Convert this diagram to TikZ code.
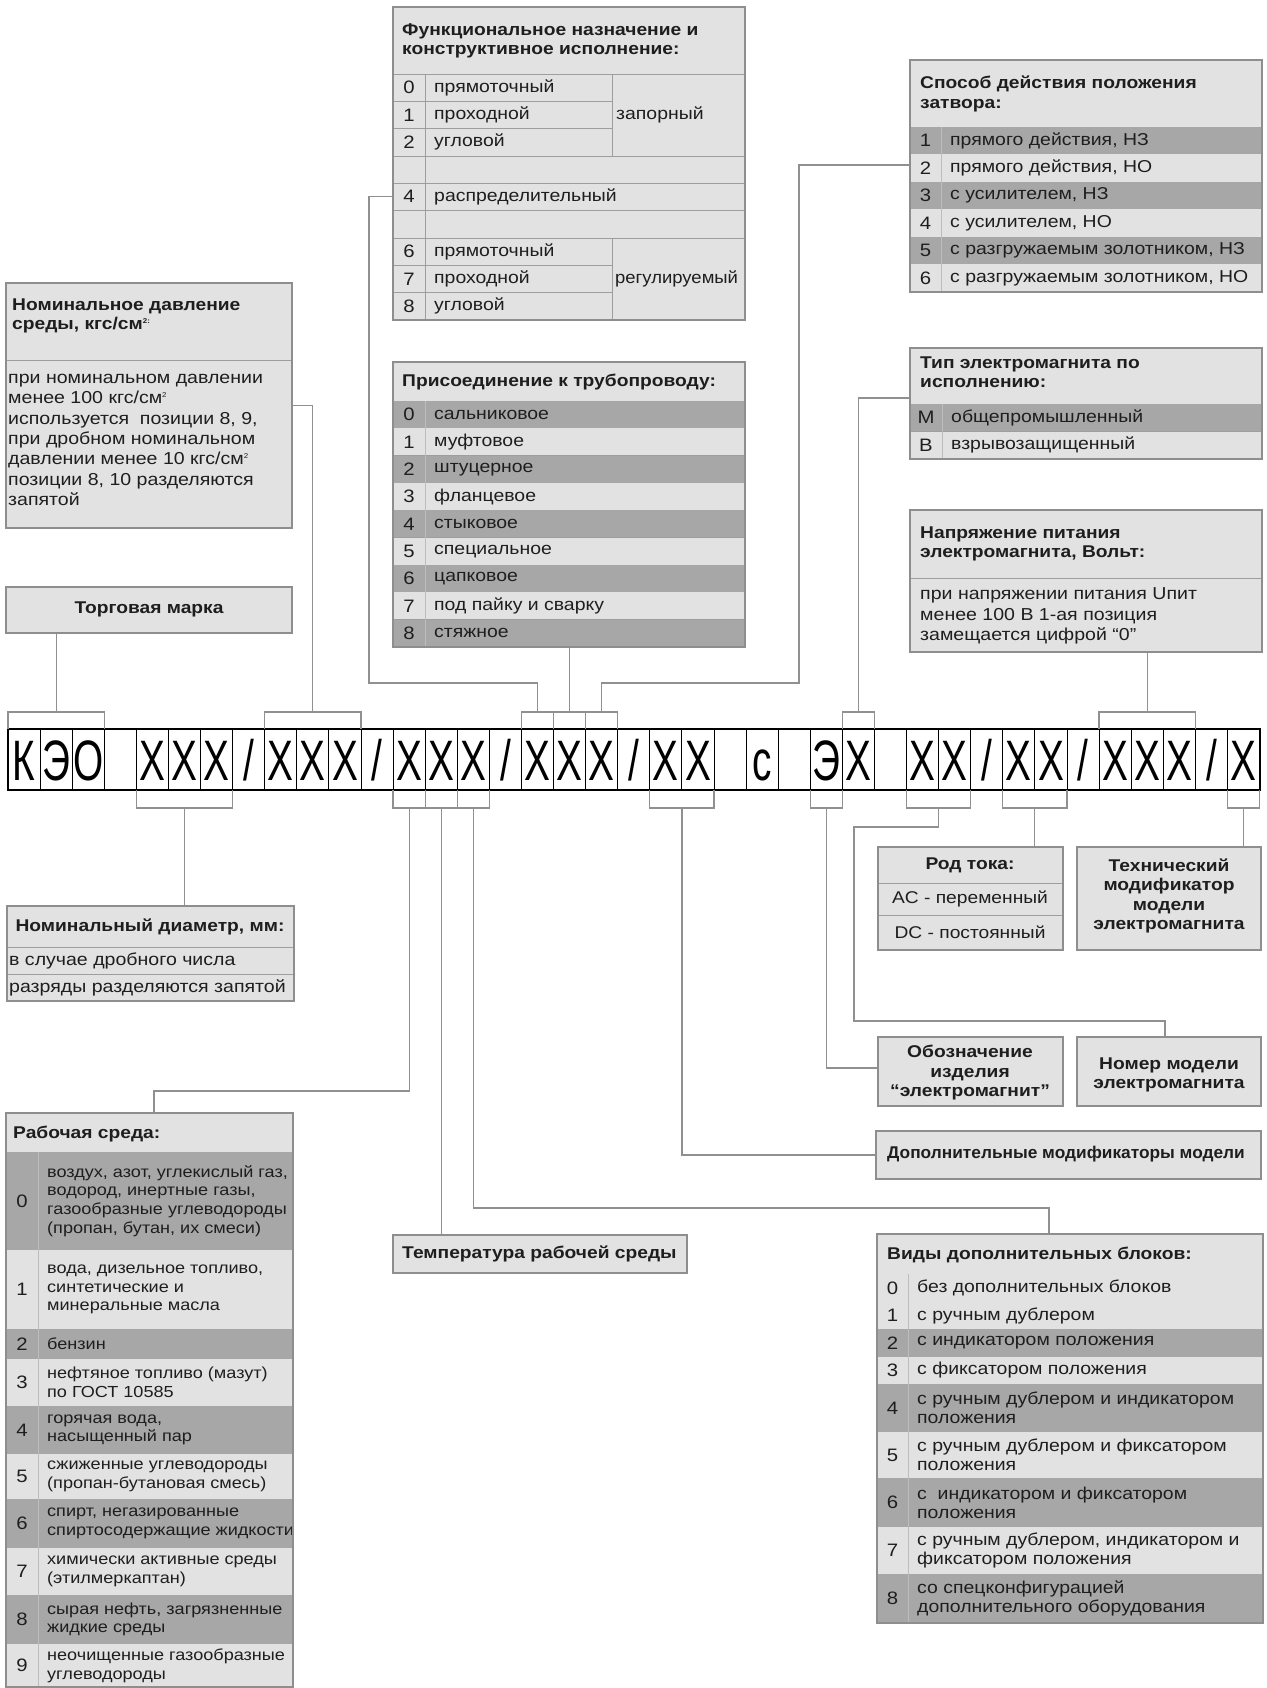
\documentclass[tikz,border=0pt]{standalone}
\usepackage{fontspec}
\setmainfont{Liberation Sans}[FakeStretch=1.13]
\newfontfamily\stripfont{Liberation Sans}
\usetikzlibrary{calc,fit}
\definecolor{lt}{HTML}{E2E2E2}
\definecolor{dk}{HTML}{A7A7A7}
\definecolor{bd}{HTML}{8E8E8E}
\definecolor{ln}{HTML}{9E9E9E}
\definecolor{cl}{HTML}{BDBDBD}
\definecolor{cn}{HTML}{909090}
\definecolor{tx}{HTML}{1E1E1E}
\newcounter{nn}
\tikzset{
 boxbg/.style={fill=lt,draw=none,inner sep=0pt,outer sep=0pt},
 border/.style={draw=bd,line width=1.3pt},
 rowline/.style={draw=ln,line width=0.8pt},
 colline/.style={draw=cl,line width=1pt},
 conn/.style={draw=cn,line width=1.2pt},
 ttl/.style={font=\bfseries\fontsize{17}{19.5}\selectfont,inner sep=0pt,align=left,text=tx},
 ttlc/.style={font=\bfseries\fontsize{17}{19.5}\selectfont,inner sep=0pt,align=center,text=tx},
 btx/.style={font=\fontsize{17.3}{20.3}\selectfont,inner sep=0pt,align=left,text=tx},
 btxc/.style={font=\fontsize{17}{20.3}\selectfont,inner sep=0pt,align=center,text=tx},
 rtx/.style={font=\fontsize{17.2}{19}\selectfont,inner sep=0pt,align=left,text=tx},
 stx/.style={font=\fontsize{16}{18.6}\selectfont,inner sep=0pt,align=left,text=tx},
 numtx/.style={font=\fontsize{18}{20}\selectfont,inner sep=0pt,text=tx},
 cell/.style={draw=black,line width=0.9pt,minimum width=32.09pt,minimum height=61pt,inner sep=0pt,outer sep=0pt,text height=41pt,text depth=0pt,font=\stripfont\fontsize{57}{57}\selectfont},
}
\newcommand{\trow}[9]{%
 \fill[#6] (#1,#4) rectangle (#3,#5);
 \draw[rowline] (#1,#5) -- (#3,#5);
 \draw[colline] (#2,#4) -- (#2,#5);
 \stepcounter{nn}\node[numtx] (n\arabic{nn}) at ({(#1+#2)/2},{(#4+#5)/2}) {#7};
 \stepcounter{nn}\node[#9, anchor=west] (n\arabic{nn}) at ({#2+9},{(#4+#5)/2}) {#8};
}
\newcommand{\supsm}[1]{\raisebox{6pt}{\fontsize{7}{7}\selectfont #1}}
\begin{document}
\begin{tikzpicture}[x=1pt,y=-1pt]
\useasboundingbox (0,0) rectangle (1266,1688);
\fill[white] (0,0) rectangle (1266,1688);

% ---------- code strip ----------
\foreach \ch [count=\i from 0] in {К,Э,О,{},X,X,X,/,X,X,X,/,X,X,X,/,X,X,X,/,X,X,{},с,{},Э,X,{},X,X,/,X,X,/,X,X,X,/,X}
  \node[cell] (c\i) at ({8+32.09*(\i+0.5)},759.5) {\scalebox{0.68}[1]{\ch}};
\draw[line width=2pt] (c0.north west) rectangle (c38.south east);

% top brackets
\draw[conn] (c0.north west) -- ++(0,-17) -| (c2.north east);
\draw[conn] (c8.north west) -- ++(0,-17) -| (c10.north east);
\draw[conn] (c16.north west) -- ++(0,-17) -| (c16.north east);
\draw[conn] (c17.north west) -- ++(0,-17) -| (c17.north east);
\draw[conn] (c18.north west) -- ++(0,-17) -| (c18.north east);
\draw[conn] (c26.north west) -- ++(0,-17) -| (c26.north east);
\draw[conn] (c34.north west) -- ++(0,-17) -| (c36.north east);
% bottom brackets
\draw[conn] (c4.south west) -- ++(0,18) -| (c6.south east);
\draw[conn] (c12.south west) -- ++(0,18) -| (c12.south east);
\draw[conn] (c13.south west) -- ++(0,18) -| (c13.south east);
\draw[conn] (c14.south west) -- ++(0,18) -| (c14.south east);
\draw[conn] (c20.south west) -- ++(0,18) -| (c21.south east);
\draw[conn] (c25.south west) -- ++(0,18) -| (c25.south east);
\draw[conn] (c28.south west) -- ++(0,18) -| (c29.south east);
\draw[conn] (c31.south west) -- ++(0,18) -| (c32.south east);
\draw[conn] (c38.south west) -- ++(0,18) -| (c38.south east);

% bracket mid points
\coordinate (tA) at ($(c0.north west)!0.5!(c2.north east)+(0,-17)$);
\coordinate (tB) at ($(c8.north west)!0.5!(c10.north east)+(0,-17)$);
\coordinate (tC) at ($(c16.north)+(0,-17)$);
\coordinate (tD) at ($(c17.north)+(0,-17)$);
\coordinate (tE) at ($(c18.north)+(0,-17)$);
\coordinate (tF) at ($(c26.north)+(0,-17)$);
\coordinate (tG) at ($(c34.north west)!0.5!(c36.north east)+(0,-17)$);
\coordinate (bH) at ($(c4.south west)!0.5!(c6.south east)+(0,18)$);
\coordinate (bI) at ($(c12.south)+(0,18)$);
\coordinate (bJ) at ($(c13.south)+(0,18)$);
\coordinate (bK) at ($(c14.south)+(0,18)$);
\coordinate (bL) at ($(c20.south west)!0.5!(c21.south east)+(0,18)$);
\coordinate (bM) at ($(c25.south)+(0,18)$);
\coordinate (bN) at ($(c28.south west)!0.5!(c29.south east)+(0,18)$);
\coordinate (bO) at ($(c31.south west)!0.5!(c32.south east)+(0,18)$);
\coordinate (bP) at ($(c38.south)+(0,18)$);

% box entry points
\coordinate (fr4) at (393,196.5);
\coordinate (sp2) at (910,165);
\coordinate (tp1) at (910,398);
\coordinate (rbin) at (154,1113);
\coordinate (vdin) at (1049,1234);
\coordinate (obin) at (878,1068);
\coordinate (nmin) at (1165,1037);

% ---------- boxes (backgrounds) ----------
\node[boxbg, fit={(393,7) (745,320)}] (func) {};
\node[boxbg, fit={(910,60) (1262,292)}] (spos) {};
\node[boxbg, fit={(6,283) (292,528)}] (press) {};
\node[boxbg, fit={(6,587) (292,633)}] (trade) {};
\node[boxbg, fit={(393,362) (745,647)}] (pris) {};
\node[boxbg, fit={(910,348) (1262,459)}] (tip) {};
\node[boxbg, fit={(910,510) (1262,652)}] (napr) {};
\node[boxbg, fit={(7,906) (294,1001)}] (diam) {};
\node[boxbg, fit={(6,1113) (293,1687)}] (rab) {};
\node[boxbg, fit={(393,1235) (687,1273)}] (temp) {};
\node[boxbg, fit={(876,1131) (1261,1179)}] (dopmod) {};
\node[boxbg, fit={(877,1234) (1263,1623)}] (vidy) {};
\node[boxbg, fit={(878,847) (1063,950)}] (rod) {};
\node[boxbg, fit={(1077,847) (1261,950)}] (tehn) {};
\node[boxbg, fit={(878,1037) (1063,1106)}] (oboz) {};
\node[boxbg, fit={(1077,1037) (1261,1106)}] (nomer) {};

% ---------- connectors ----------
\draw[conn] (tA) -- (tA |- trade.south);
\draw[conn] (tB) |- (press.east);
\draw[conn] (tC) |- (369,683) |- (fr4);
\draw[conn] (tD) -- (tD |- pris.south);
\draw[conn] (tE) |- (799,683) |- (sp2);
\draw[conn] (tF) |- (tp1);
\draw[conn] (tG) -- (tG |- napr.south);
\draw[conn] (bH) -- (bH |- diam.north);
\draw[conn] (bI) |- (154,1091) -- (rbin);
\draw[conn] (bJ) -- (bJ |- temp.north);
\draw[conn] (bK) |- (1049,1208) -- (vdin);
\draw[conn] (bL) |- (dopmod.west);
\draw[conn] (bM) |- (obin);
\draw[conn] (bN) |- (854,827) |- (1165,1021) -- (nmin);
\draw[conn] (bO) -- (bO |- rod.north);
\draw[conn] (bP) -- (bP |- tehn.north);

% ---------- Функциональное назначение ----------
\draw[rowline] (393,74) -- (745,74);
\draw[rowline] (393,101.3) -- (612,101.3) (393,128.7) -- (612,128.7)
  (393,156) -- (745,156) (393,183.3) -- (745,183.3) (393,210.7) -- (745,210.7)
  (393,238) -- (745,238) (393,265.3) -- (612,265.3) (393,292.7) -- (612,292.7);
\draw[rowline] (425,74) -- (425,320) (612,74) -- (612,156) (612,238) -- (612,320);
\node[ttl, anchor=west] (funcT) at (402,41) {Функциональное назначение и\\конструктивное исполнение:};
\node[numtx] (f0) at (409,87.7) {0};
\node[numtx] (f1) at (409,115) {1};
\node[numtx] (f2) at (409,142.3) {2};
\node[numtx] (f4) at (409,196.7) {4};
\node[numtx] (f6) at (409,251.7) {6};
\node[numtx] (f7) at (409,279) {7};
\node[numtx] (f8) at (409,306.3) {8};
\node[rtx, anchor=west] (ft0) at (434,87.7) {прямоточный};
\node[rtx, anchor=west] (ft1) at (434,115) {проходной};
\node[rtx, anchor=west] (ft2) at (434,142.3) {угловой};
\node[rtx, anchor=west] (ft4) at (434,196.7) {распределительный};
\node[rtx, anchor=west] (ft6) at (434,251.7) {прямоточный};
\node[rtx, anchor=west] (ft7) at (434,279) {проходной};
\node[rtx, anchor=west] (ft8) at (434,306.3) {угловой};
\node[rtx, anchor=west] (fg1) at (616,115) {запорный};
\node[rtx, anchor=west] (fg2) at (615,279) {\scalebox{0.95}[1]{регулируемый}};
\draw[border] (func.north west) rectangle (func.south east);

% ---------- Способ действия ----------
\draw[rowline] (910,127) -- (1262,127);
\node[ttl, anchor=west] (sposT) at (920,94) {Способ действия положения\\затвора:};
\trow{910}{941}{1262}{127}{154.5}{dk}{1}{прямого действия, НЗ}{rtx}
\trow{910}{941}{1262}{154.5}{182}{lt}{2}{прямого действия, НО}{rtx}
\trow{910}{941}{1262}{182}{209.5}{dk}{3}{с усилителем, НЗ}{rtx}
\trow{910}{941}{1262}{209.5}{237}{lt}{4}{с усилителем, НО}{rtx}
\trow{910}{941}{1262}{237}{264.5}{dk}{5}{с разгружаемым золотником, НЗ}{rtx}
\trow{910}{941}{1262}{264.5}{292}{lt}{6}{с разгружаемым золотником, НО}{rtx}
\draw[border] (spos.north west) rectangle (spos.south east);

% ---------- Номинальное давление ----------
\draw[rowline] (6,360) -- (292,360);
\node[ttl, anchor=west] (pressT) at (12,316) {Номинальное давление\\среды, кгс/см\supsm{2:}};
\node[btx, anchor=west] (pressB) at (8,440) {при номинальном давлении\\менее 100 кгс/см\supsm{2}\\используется\ \ позиции 8, 9,\\при дробном номинальном\\давлении менее 10 кгс/см\supsm{2}\\позиции 8, 10 разделяются\\запятой};
\draw[border] (press.north west) rectangle (press.south east);

% ---------- Торговая марка ----------
\node[ttlc] (tradeT) at (149,609) {Торговая марка};
\draw[border] (trade.north west) rectangle (trade.south east);

% ---------- Присоединение ----------
\draw[rowline] (393,401) -- (745,401);
\node[ttl, anchor=west] (prisT) at (402,382) {Присоединение к трубопроводу:};
\trow{393}{425}{745}{401}{428.3}{dk}{0}{сальниковое}{rtx}
\trow{393}{425}{745}{428.3}{455.7}{lt}{1}{муфтовое}{rtx}
\trow{393}{425}{745}{455.7}{483}{dk}{2}{штуцерное}{rtx}
\trow{393}{425}{745}{483}{510.3}{lt}{3}{фланцевое}{rtx}
\trow{393}{425}{745}{510.3}{537.7}{dk}{4}{стыковое}{rtx}
\trow{393}{425}{745}{537.7}{565}{lt}{5}{специальное}{rtx}
\trow{393}{425}{745}{565}{592.3}{dk}{6}{цапковое}{rtx}
\trow{393}{425}{745}{592.3}{619.7}{lt}{7}{под пайку и сварку}{rtx}
\trow{393}{425}{745}{619.7}{647}{dk}{8}{стяжное}{rtx}
\draw[border] (pris.north west) rectangle (pris.south east);

% ---------- Тип электромагнита ----------
\draw[rowline] (910,404) -- (1262,404);
\node[ttl, anchor=west] (tipT) at (920,372) {Тип электромагнита по\\исполнению:};
\trow{910}{942}{1262}{404}{431.5}{dk}{М}{общепромышленный}{rtx}
\trow{910}{942}{1262}{431.5}{459}{lt}{В}{взрывозащищенный}{rtx}
\draw[border] (tip.north west) rectangle (tip.south east);

% ---------- Напряжение питания ----------
\draw[rowline] (910,578) -- (1262,578);
\node[ttl, anchor=west] (naprT) at (920,544) {Напряжение питания\\электромагнита, Вольт:};
\node[btx, anchor=west] (naprB) at (920,616) {при напряжении питания Uпит\\менее 100 В 1-ая позиция\\замещается цифрой “0”};
\draw[border] (napr.north west) rectangle (napr.south east);

% ---------- Номинальный диаметр ----------
\draw[rowline] (7,947) -- (294,947) (7,974) -- (294,974);
\node[ttlc] (diamT) at (150,927) {Номинальный диаметр, мм:};
\node[btx, anchor=west] (diamB1) at (9,961) {в случае дробного числа};
\node[btx, anchor=west] (diamB2) at (9,988) {разряды разделяются запятой};
\draw[border] (diam.north west) rectangle (diam.south east);

% ---------- Рабочая среда ----------
\draw[rowline] (6,1152) -- (293,1152);
\node[ttl, anchor=west] (rabT) at (13,1134) {Рабочая среда:};
\trow{6}{38}{293}{1152}{1250}{dk}{0}{воздух, азот, углекислый газ,\\водород, инертные газы,\\газообразные углеводороды\\(пропан, бутан, их смеси)}{stx}
\trow{6}{38}{293}{1250}{1329}{lt}{1}{вода, дизельное топливо,\\синтетические и\\минеральные масла}{stx}
\trow{6}{38}{293}{1329}{1359}{dk}{2}{бензин}{stx}
\trow{6}{38}{293}{1359}{1406}{lt}{3}{нефтяное топливо (мазут)\\по ГОСТ 10585}{stx}
\trow{6}{38}{293}{1406}{1454}{dk}{4}{горячая вода,\\насыщенный пар}{stx}
\trow{6}{38}{293}{1454}{1499}{lt}{5}{сжиженные углеводороды\\(пропан-бутановая смесь)}{stx}
\trow{6}{38}{293}{1499}{1548}{dk}{6}{спирт, негазированные\\спиртосодержащие жидкости}{stx}
\trow{6}{38}{293}{1548}{1595}{lt}{7}{химически активные среды\\(этилмеркаптан)}{stx}
\trow{6}{38}{293}{1595}{1644}{dk}{8}{сырая нефть, загрязненные\\жидкие среды}{stx}
\trow{6}{38}{293}{1644}{1687}{lt}{9}{неочищенные газообразные\\углеводороды}{stx}
\draw[border] (rab.north west) rectangle (rab.south east);

% ---------- Температура ----------
\node[ttl, anchor=west] (tempT) at (402,1254) {Температура рабочей среды};
\draw[border] (temp.north west) rectangle (temp.south east);

% ---------- Дополнительные модификаторы ----------
\node[ttl, anchor=west] (dopT) at (887,1154) {\scalebox{0.9}[1]{Дополнительные модификаторы модели}};
\draw[border] (dopmod.north west) rectangle (dopmod.south east);

% ---------- Виды дополнительных блоков ----------
\draw[rowline] (877,1274) -- (1263,1274);
\node[ttl, anchor=west] (vidyT) at (887,1255) {Виды дополнительных блоков:};
\trow{877}{908}{1263}{1274}{1302}{lt}{0}{без дополнительных блоков}{rtx}
\trow{877}{908}{1263}{1302}{1329}{lt}{1}{с ручным дублером}{rtx}
\trow{877}{908}{1263}{1329}{1357}{dk}{2}{с индикатором положения}{rtx}
\trow{877}{908}{1263}{1357}{1384}{lt}{3}{с фиксатором положения}{rtx}
\trow{877}{908}{1263}{1384}{1432}{dk}{4}{с ручным дублером и индикатором\\положения}{rtx}
\trow{877}{908}{1263}{1432}{1478}{lt}{5}{с ручным дублером и фиксатором\\положения}{rtx}
\trow{877}{908}{1263}{1478}{1527}{dk}{6}{с\ \ индикатором и фиксатором\\положения}{rtx}
\trow{877}{908}{1263}{1527}{1574}{lt}{7}{с ручным дублером, индикатором и\\фиксатором положения}{rtx}
\trow{877}{908}{1263}{1574}{1623}{dk}{8}{со спецконфигурацией\\дополнительного оборудования}{rtx}
\draw[border] (vidy.north west) rectangle (vidy.south east);

% ---------- Род тока ----------
\draw[rowline] (878,883) -- (1063,883) (878,915) -- (1063,915);
\node[ttlc] (rodT) at (970,865) {Род тока:};
\node[btxc] (rod1) at (970,899) {AC - переменный};
\node[btxc] (rod2) at (970,932) {DC - постоянный};
\draw[border] (rod.north west) rectangle (rod.south east);

% ---------- Технический модификатор ----------
\node[ttlc] (tehnT) at (1169,896) {Технический\\модификатор\\модели\\электромагнита};
\draw[border] (tehn.north west) rectangle (tehn.south east);

% ---------- Обозначение ----------
\node[ttlc] (obozT) at (970,1073) {Обозначение\\изделия\\“электромагнит”};
\draw[border] (oboz.north west) rectangle (oboz.south east);

% ---------- Номер модели ----------
\node[ttlc] (nomerT) at (1169,1075) {Номер модели\\электромагнита};
\draw[border] (nomer.north west) rectangle (nomer.south east);
\end{tikzpicture}
\end{document}
